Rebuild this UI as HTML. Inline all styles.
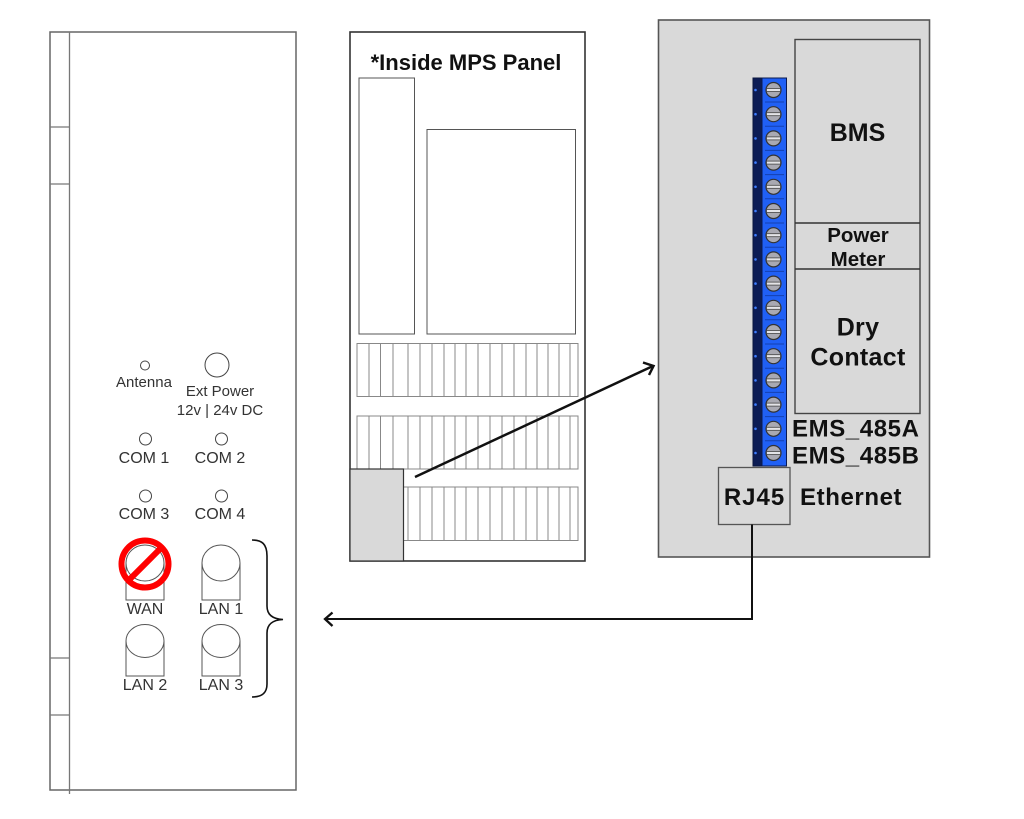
<!DOCTYPE html>
<html>
<head>
<meta charset="utf-8">
<style>
  html,body{margin:0;padding:0;background:#fff;}
  svg{display:block;}
  .lbl{font-family:"Liberation Sans",Arial,sans-serif;fill:#333;}
  .b{font-family:"Liberation Sans",Arial,sans-serif;font-weight:bold;fill:#111;}
</style>
</head>
<body>
<svg width="1024" height="819" viewBox="0 0 1024 819" xmlns="http://www.w3.org/2000/svg">
  <!-- LEFT DEVICE -->
  <rect x="50" y="32" width="246" height="758" fill="#fff" stroke="#666" stroke-width="1.5"/>
  <line x1="69.5" y1="32" x2="69.5" y2="794" stroke="#777" stroke-width="1.3"/>
  <line x1="50" y1="127" x2="69.5" y2="127" stroke="#777" stroke-width="1.3"/>
  <line x1="50" y1="184" x2="69.5" y2="184" stroke="#777" stroke-width="1.3"/>
  <line x1="50" y1="658" x2="69.5" y2="658" stroke="#777" stroke-width="1.3"/>
  <line x1="50" y1="715" x2="69.5" y2="715" stroke="#777" stroke-width="1.3"/>

  <circle cx="145" cy="365.5" r="4.5" fill="#fff" stroke="#444" stroke-width="1"/>
  <text class="lbl" x="144" y="387" font-size="15" text-anchor="middle">Antenna</text>
  <circle cx="217" cy="365" r="12" fill="#fff" stroke="#444" stroke-width="1"/>
  <text class="lbl" x="220" y="396" font-size="15" text-anchor="middle">Ext Power</text>
  <text class="lbl" x="220" y="415" font-size="15" text-anchor="middle">12v | 24v DC</text>

  <circle cx="145.5" cy="439" r="6" fill="#fff" stroke="#444" stroke-width="1"/>
  <text class="lbl" x="144" y="463" font-size="16" text-anchor="middle">COM 1</text>
  <circle cx="221.5" cy="439" r="6" fill="#fff" stroke="#444" stroke-width="1"/>
  <text class="lbl" x="220" y="463" font-size="16" text-anchor="middle">COM 2</text>
  <circle cx="145.5" cy="496" r="6" fill="#fff" stroke="#444" stroke-width="1"/>
  <text class="lbl" x="144" y="519" font-size="16" text-anchor="middle">COM 3</text>
  <circle cx="221.5" cy="496" r="6" fill="#fff" stroke="#444" stroke-width="1"/>
  <text class="lbl" x="220" y="519" font-size="16" text-anchor="middle">COM 4</text>

  <!-- Ports -->
  <g fill="#fff" stroke="#555" stroke-width="1">
    <polyline points="126,563 126,600 164,600 164,563"/>
    <ellipse cx="145" cy="563" rx="19" ry="18"/>
    <polyline points="202,563 202,600 240,600 240,563"/>
    <ellipse cx="221" cy="563" rx="19" ry="18"/>
    <polyline points="126,641 126,676 164,676 164,641"/>
    <ellipse cx="145" cy="641" rx="19" ry="16.5"/>
    <polyline points="202,641 202,676 240,676 240,641"/>
    <ellipse cx="221" cy="641" rx="19" ry="16.5"/>
  </g>
  <text class="lbl" x="145" y="614" font-size="16" text-anchor="middle">WAN</text>
  <text class="lbl" x="221" y="614" font-size="16" text-anchor="middle">LAN 1</text>
  <text class="lbl" x="145" y="690" font-size="16" text-anchor="middle">LAN 2</text>
  <text class="lbl" x="221" y="690" font-size="16" text-anchor="middle">LAN 3</text>

  <!-- prohibition sign -->
  <circle cx="145" cy="564" r="23.5" fill="none" stroke="#f00" stroke-width="6"/>
  <line x1="161.6" y1="547.4" x2="128.4" y2="580.6" stroke="#f00" stroke-width="6"/>

  <!-- brace -->
  <path d="M252,540 C262,540 267,544 267,556 L267,606 C267,614 272,619 283,619.5 C272,620 267,625 267,633 L267,684 C267,693 262,697 252,697" fill="none" stroke="#111" stroke-width="1.6"/>

  <!-- MPS PANEL -->
  <rect x="350" y="32" width="235" height="529" fill="#fff" stroke="#333" stroke-width="1.6"/>
  <text class="b" x="466" y="70" font-size="22" text-anchor="middle">*Inside MPS Panel</text>
  <rect x="359" y="78" width="55.5" height="256" fill="#fff" stroke="#555" stroke-width="1"/>
  <rect x="427" y="129.5" width="148.5" height="204.5" fill="#fff" stroke="#555" stroke-width="1"/>

  <g fill="#fff" stroke="#888" stroke-width="1">
    <rect x="357" y="343.5" width="221" height="53"/>
    <rect x="357" y="416" width="221" height="53"/>
    <rect x="357" y="487" width="221" height="53.5"/>
  </g>
  <g stroke="#888" stroke-width="1">
    <path d="M369,343.5V396.5M380.5,343.5V396.5M393,343.5V396.5M408,343.5V396.5M420,343.5V396.5M432,343.5V396.5M444,343.5V396.5M455,343.5V396.5M466,343.5V396.5M478,343.5V396.5M490,343.5V396.5M502,343.5V396.5M514,343.5V396.5M526,343.5V396.5M537,343.5V396.5M548,343.5V396.5M559,343.5V396.5M570,343.5V396.5"/>
    <path d="M369,416V469M380.5,416V469M393,416V469M408,416V469M420,416V469M432,416V469M444,416V469M455,416V469M466,416V469M478,416V469M490,416V469M502,416V469M514,416V469M526,416V469M537,416V469M548,416V469M559,416V469M570,416V469"/>
    <path d="M369,487V540.5M380.5,487V540.5M393,487V540.5M408,487V540.5M420,487V540.5M432,487V540.5M444,487V540.5M455,487V540.5M466,487V540.5M478,487V540.5M490,487V540.5M502,487V540.5M514,487V540.5M526,487V540.5M537,487V540.5M548,487V540.5M559,487V540.5M570,487V540.5"/>
  </g>
  <rect x="350" y="469" width="53.5" height="92" fill="#d9d9d9" stroke="#333" stroke-width="1.2"/>

  <!-- RIGHT PANEL -->
  <rect x="658.5" y="20" width="271" height="537" fill="#d9d9d9" stroke="#555" stroke-width="1.6"/>
  <rect x="795" y="39.5" width="125" height="374" fill="#d9d9d9" stroke="#444" stroke-width="1.4"/>
  <line x1="795" y1="223" x2="920" y2="223" stroke="#333" stroke-width="1.5"/>
  <line x1="795" y1="269" x2="920" y2="269" stroke="#333" stroke-width="1.5"/>
  <text class="b" x="857.5" y="141" font-size="25" text-anchor="middle">BMS</text>
  <text class="b" x="858" y="242" font-size="20.5" text-anchor="middle">Power</text>
  <text class="b" x="858" y="266" font-size="20.5" text-anchor="middle">Meter</text>
  <text class="b" x="858" y="335.5" font-size="25" text-anchor="middle" letter-spacing="0.3">Dry</text>
  <text class="b" x="858" y="365.5" font-size="25" text-anchor="middle" letter-spacing="0.3">Contact</text>

  <!-- terminal strip -->
  <rect x="753" y="78" width="9" height="388" fill="#0c1c55" stroke="#0a1640" stroke-width="1"/>
  <rect x="762" y="78" width="24.5" height="388" fill="#2060f5" stroke="#0a1a50" stroke-width="1"/>
  <g id="screws">
    <g fill="#3d7dff">
      <circle cx="755.5" cy="90" r="1.3"/><circle cx="755.5" cy="114.2" r="1.3"/><circle cx="755.5" cy="138.4" r="1.3"/><circle cx="755.5" cy="162.6" r="1.3"/>
      <circle cx="755.5" cy="186.8" r="1.3"/><circle cx="755.5" cy="211" r="1.3"/><circle cx="755.5" cy="235.2" r="1.3"/><circle cx="755.5" cy="259.4" r="1.3"/>
      <circle cx="755.5" cy="283.6" r="1.3"/><circle cx="755.5" cy="307.8" r="1.3"/><circle cx="755.5" cy="332" r="1.3"/><circle cx="755.5" cy="356.2" r="1.3"/>
      <circle cx="755.5" cy="380.4" r="1.3"/><circle cx="755.5" cy="404.6" r="1.3"/><circle cx="755.5" cy="428.8" r="1.3"/><circle cx="755.5" cy="453" r="1.3"/>
    </g>
    <g stroke="#1540b0" stroke-width="1">
      <path d="M765,102H784M765,126.2H784M765,150.4H784M765,174.6H784M765,198.8H784M765,223H784M765,247.2H784M765,271.4H784M765,295.6H784M765,319.8H784M765,344H784M765,368.2H784M765,392.4H784M765,416.6H784M765,440.8H784"/>
    </g>
    <g fill="#a9a9b2" stroke="#333" stroke-width="1.2">
      <circle cx="773.5" cy="90" r="7.5"/><circle cx="773.5" cy="114.2" r="7.5"/><circle cx="773.5" cy="138.4" r="7.5"/><circle cx="773.5" cy="162.6" r="7.5"/>
      <circle cx="773.5" cy="186.8" r="7.5"/><circle cx="773.5" cy="211" r="7.5"/><circle cx="773.5" cy="235.2" r="7.5"/><circle cx="773.5" cy="259.4" r="7.5"/>
      <circle cx="773.5" cy="283.6" r="7.5"/><circle cx="773.5" cy="307.8" r="7.5"/><circle cx="773.5" cy="332" r="7.5"/><circle cx="773.5" cy="356.2" r="7.5"/>
      <circle cx="773.5" cy="380.4" r="7.5"/><circle cx="773.5" cy="404.6" r="7.5"/><circle cx="773.5" cy="428.8" r="7.5"/><circle cx="773.5" cy="453" r="7.5"/>
    </g>
    <g fill="#e4e4e8" stroke="#444" stroke-width="0.8">
      <rect x="766.5" y="88.5" width="14" height="3"/><rect x="766.5" y="112.7" width="14" height="3"/><rect x="766.5" y="136.9" width="14" height="3"/><rect x="766.5" y="161.1" width="14" height="3"/>
      <rect x="766.5" y="185.3" width="14" height="3"/><rect x="766.5" y="209.5" width="14" height="3"/><rect x="766.5" y="233.7" width="14" height="3"/><rect x="766.5" y="257.9" width="14" height="3"/>
      <rect x="766.5" y="282.1" width="14" height="3"/><rect x="766.5" y="306.3" width="14" height="3"/><rect x="766.5" y="330.5" width="14" height="3"/><rect x="766.5" y="354.7" width="14" height="3"/>
      <rect x="766.5" y="378.9" width="14" height="3"/><rect x="766.5" y="403.1" width="14" height="3"/><rect x="766.5" y="427.3" width="14" height="3"/><rect x="766.5" y="451.5" width="14" height="3"/>
    </g>
  </g>

  <text class="b" x="792" y="436.5" font-size="24" letter-spacing="0.6">EMS_485A</text>
  <text class="b" x="792" y="463.5" font-size="24" letter-spacing="0.6">EMS_485B</text>

  <rect x="718.5" y="467.5" width="71.5" height="57" fill="#d9d9d9" stroke="#555" stroke-width="1.3"/>
  <text class="b" x="754.5" y="505" font-size="24" text-anchor="middle" letter-spacing="1">RJ45</text>
  <text class="b" x="800" y="505" font-size="24" letter-spacing="0.6">Ethernet</text>

  <!-- connectors -->
  <line x1="415" y1="477" x2="653" y2="366" stroke="#111" stroke-width="2.5"/>
  <polyline points="643,362.5 653.5,366 649,375" fill="none" stroke="#111" stroke-width="2.5" stroke-linejoin="miter"/>

  <polyline points="752,524.5 752,619 326,619" fill="none" stroke="#111" stroke-width="2"/>
  <polyline points="332.5,612.5 325,619 332.5,626" fill="none" stroke="#111" stroke-width="2.3"/>
</svg>
</body>
</html>
